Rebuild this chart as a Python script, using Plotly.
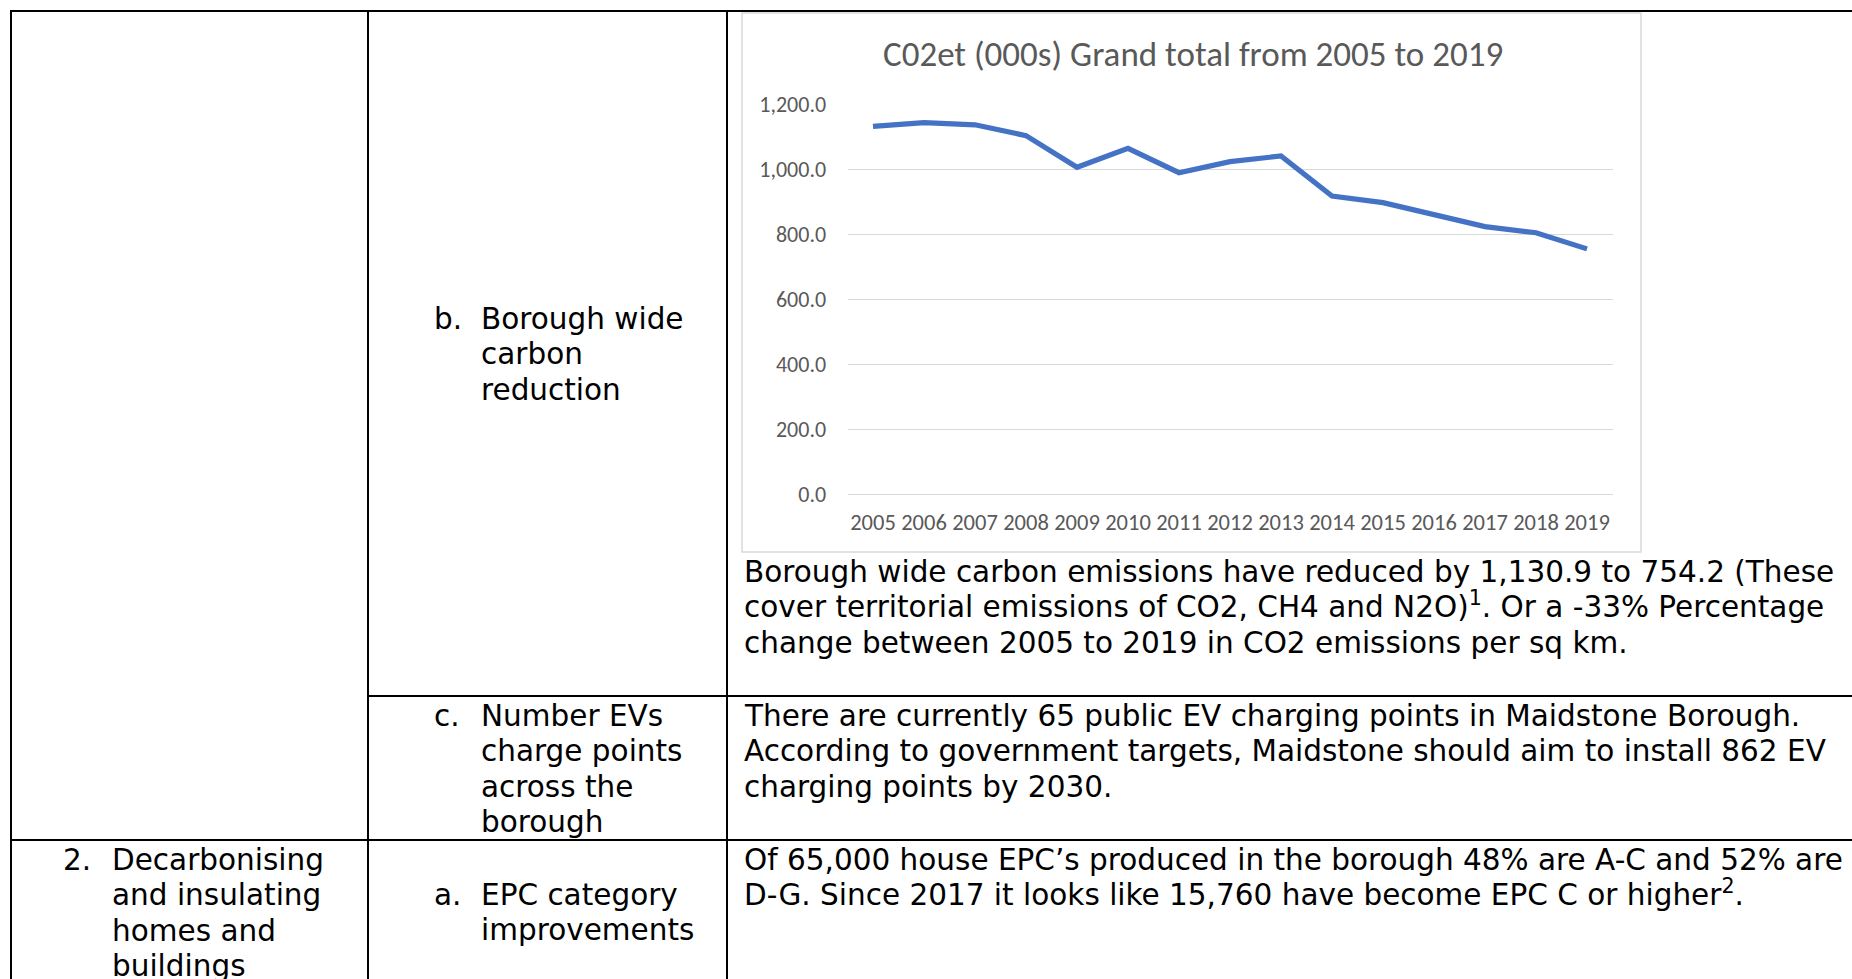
import plotly.graph_objects as go

# ---------------- data ----------------
years = ["2005", "2006", "2007", "2008", "2009", "2010", "2011", "2012",
         "2013", "2014", "2015", "2016", "2017", "2018", "2019"]
co2e_000s = [1130.9, 1142.6, 1136.0, 1102.6, 1005.2, 1063.6, 988.7, 1022.6,
             1040.0, 917.0, 896.4, 858.5, 822.6, 804.0, 754.2]
y_ticks = [0, 200, 400, 600, 800, 1000, 1200]
chart_title = "C02et (000s) Grand total from 2005 to 2019"

col1_lines = [("2.", "Decarbonising"), ("", "and insulating"), ("", "homes and"), ("", "buildings")]
row_b_lines = [("b.", "Borough wide"), ("", "carbon"), ("", "reduction")]
row_c_lines = [("c.", "Number EVs"), ("", "charge points"), ("", "across the"), ("", "borough")]
row_a_lines = [("a.", "EPC category"), ("", "improvements")]
text_b = ["Borough wide carbon emissions have reduced by 1,130.9 to 754.2 (These",
          "cover territorial emissions of CO2, CH4 and N2O)<sup>1</sup>. Or a -33% Percentage",
          "change between 2005 to 2019 in CO2 emissions per sq km."]
text_c = ["There are currently 65 public EV charging points in Maidstone Borough.",
          "According to government targets, Maidstone should aim to install 862 EV",
          "charging points by 2030."]
text_a = ["Of 65,000 house EPC\u2019s produced in the borough 48% are A-C and 52% are",
          "D-G. Since 2017 it looks like 15,760 have become EPC C or higher<sup>2</sup>."]

# ---------------- geometry helpers ----------------
W, H = 1852, 979


def X(px):
    return px / W


def Y(py):
    return 1 - py / H


DOC_FONT = "DejaVu Sans, Verdana, sans-serif"
DOC_SIZE = 29.5
CHART_FONT = "Calibri, Carlito, Lato, sans-serif"
GREY_TXT = "#595959"
GRID = "#D9D9D9"

fig = go.Figure()
fig.add_trace(go.Scatter(
    x=years, y=co2e_000s, mode="lines",
    line=dict(color="#4472C4", width=5.2, shape="linear"),
    hoverinfo="x+y", showlegend=False,
))

shapes = []
# chart frame (below plot)
shapes.append(dict(type="rect", xref="paper", yref="paper",
                   x0=X(742), x1=X(1641), y0=Y(552), y1=Y(13),
                   line=dict(color=GRID, width=1.5), fillcolor="white", layer="below"))


def hline(y, x0, x1, w=2):
    shapes.append(dict(type="line", xref="paper", yref="paper",
                       x0=X(x0), x1=X(x1), y0=Y(y), y1=Y(y),
                       line=dict(color="black", width=w), layer="above"))


def vline(x, y0, y1, w=2):
    shapes.append(dict(type="line", xref="paper", yref="paper",
                       x0=X(x), x1=X(x), y0=Y(y0), y1=Y(y1),
                       line=dict(color="black", width=w), layer="above"))


# table borders
hline(11, 10, 1852)
hline(696, 368, 1852)
hline(840, 10, 1852)
vline(11, 11, 979)
vline(368, 11, 979)
vline(727, 11, 979)

annotations = []
BASE_OFF = 19  # distance from visual line centre to bottom of text box


def txt(s, xpx, ypx, size=DOC_SIZE, family=DOC_FONT, color="black", xanchor="left"):
    annotations.append(dict(text=s, xref="paper", yref="paper", x=X(xpx), y=Y(ypx + BASE_OFF),
                            xanchor=xanchor, yanchor="bottom", showarrow=False,
                            font=dict(family=family, size=size, color=color)))


LINE = 35.4


def block(lines, x_num, x_text, y0):
    for i, (num, body) in enumerate(lines):
        y = y0 + i * LINE
        if num:
            txt(num, x_num, y)
        txt(body, x_text, y)


block(col1_lines, 61, 110, 860)
block(row_b_lines, 432, 479, 319)
block(row_c_lines, 432, 479, 716)
block(row_a_lines, 432, 479, 895)

for i, s in enumerate(text_b):
    txt(s, 742, 572 + i * LINE)
for i, s in enumerate(text_c):
    txt(s, 742, 716 + i * LINE)
for i, s in enumerate(text_a):
    txt(s, 742, 860 + i * LINE)

# chart title
annotations.append(dict(text=chart_title, xref="paper", yref="paper", x=X(1193), y=Y(54),
                        xanchor="center", yanchor="middle", showarrow=False,
                        font=dict(family=CHART_FONT, size=35, color=GREY_TXT)))

fig.update_layout(
    width=W, height=H,
    margin=dict(l=0, r=0, t=0, b=0, pad=0, autoexpand=False),
    paper_bgcolor="white", plot_bgcolor="rgba(0,0,0,0)",
    shapes=shapes, annotations=annotations,
    xaxis=dict(domain=[X(847.5), X(1612.5)], type="category", range=[-0.5, 14.5],
               showgrid=False, zeroline=False, showline=False, automargin=False,
               ticks="outside", ticklen=8, tickcolor="rgba(0,0,0,0)", tickangle=0,
               tickfont=dict(family=CHART_FONT, size=22.5, color=GREY_TXT)),
    yaxis=dict(domain=[Y(494), Y(104)], range=[0, 1200], tickvals=y_ticks,
               tickformat=",.1f", showgrid=True, gridcolor=GRID, gridwidth=1.3,
               zeroline=True, zerolinecolor=GRID, zerolinewidth=1.3, showline=False,
               automargin=False,
               ticks="outside", ticklen=16, tickcolor="rgba(0,0,0,0)",
               tickfont=dict(family=CHART_FONT, size=22, color=GREY_TXT)),
)

post = (
    "document.documentElement.style.margin='0';"
    "document.documentElement.style.overflow='hidden';"
    "document.body.style.margin='0';document.body.style.padding='0';"
    "document.body.style.overflow='hidden';"
    "var gd=document.getElementById('{plot_id}');"
    "gd.style.position='fixed';gd.style.left='0px';gd.style.top='0px';"
)
fig.write_html("out.html", post_script=post, config={"displayModeBar": False})
